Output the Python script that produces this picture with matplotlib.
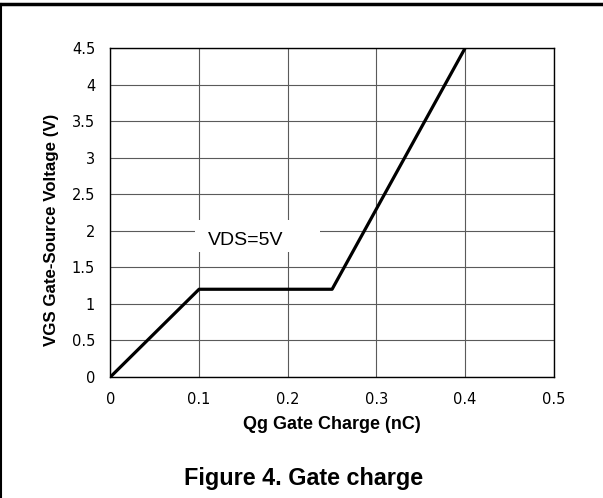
import matplotlib
matplotlib.use('Agg')
import matplotlib.pyplot as plt
from matplotlib.lines import Line2D
from matplotlib.patches import Rectangle

plt.rcParams['font.family'] = ['Liberation Sans', 'DejaVu Sans']

# gate charge curve
qg = [0, 0.1, 0.25, 0.4]
vgs = [0, 1.2, 1.2, 4.5]
x_ticks = [0, 0.1, 0.2, 0.3, 0.4, 0.5]
x_labels = ['0', '0.1', '0.2', '0.3', '0.4', '0.5']
y_ticks = [0, 0.5, 1, 1.5, 2, 2.5, 3, 3.5, 4, 4.5]
y_labels = ['0', '0.5', '1', '1.5', '2', '2.5', '3', '3.5', '4', '4.5']

fig = plt.figure(figsize=(6.03, 4.98), dpi=100)
ax = fig.add_axes([0.183, 0.243, 0.7355, 0.6606])

ax.plot(qg, vgs, color='black', lw=2.3, zorder=3)
ax.set_xlim(0, 0.5)
ax.set_ylim(0, 4.5)
ax.set_xticks(x_ticks)
ax.set_xticklabels(x_labels, family='DejaVu Sans')
ax.set_yticks(y_ticks)
ax.set_yticklabels(y_labels, family='DejaVu Sans')
ax.tick_params(length=0, labelsize=10.5, pad=11)
ax.grid(True, color='#5a5a5a', lw=0.8)
for s in ax.spines.values():
    s.set_linewidth(1.0)

# axis titles placed on the figure
fig.text(0.551, 0.139, 'Qg Gate Charge (nC)', fontsize=13, fontweight='bold',
         ha='center', va='baseline')
fig.text(0.085, 0.538, 'VGS Gate-Source Voltage (V)', fontsize=12.2, fontweight='bold',
         rotation=90, ha='center', va='center')

# white box behind the annotation, cuts the grid lines
ax.add_patch(Rectangle((0.095, 1.71), 0.141, 0.437, facecolor='white', edgecolor='none', zorder=2.5))
ax.text(0.11, 1.80, 'VDS=5V', fontsize=14, ha='left', va='baseline', zorder=4)

fig.text(0.504, 0.026, 'Figure 4. Gate charge', fontsize=16.8, fontweight='bold', ha='center', va='baseline')

# page frame
fig.add_artist(Line2D([0, 1], [0.992, 0.992], transform=fig.transFigure, color='black', lw=2.5))
fig.add_artist(Line2D([0.002, 0.002], [0, 0.992], transform=fig.transFigure, color='black', lw=1.5))

fig.savefig('out.png', dpi=100)
